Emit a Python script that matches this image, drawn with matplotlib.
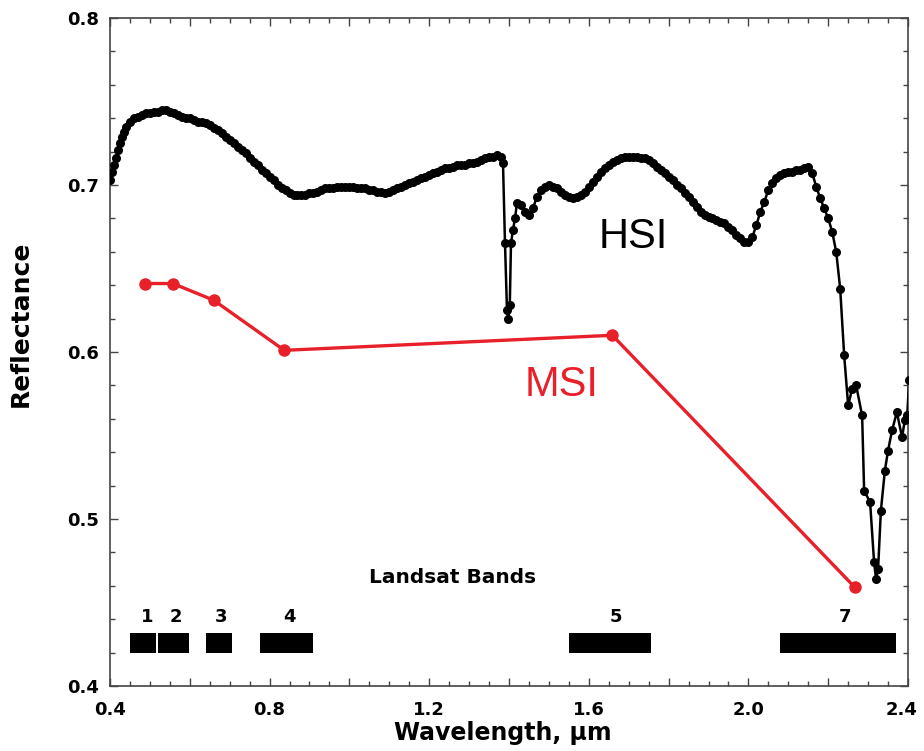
import matplotlib
matplotlib.use("Agg")
import matplotlib.pyplot as plt
import matplotlib.transforms as mtransforms
from matplotlib.ticker import MultipleLocator, FuncFormatter

plt.rcParams['font.family'] = ['Liberation Sans', 'DejaVu Sans']

# Hyperspectral reflectance spectrum (wavelength in µm, reflectance)
hsi_wl = [0.400, 0.405, 0.410, 0.415, 0.420, 0.425, 0.430, 0.435, 0.440, 0.450,
          0.460, 0.470, 0.480, 0.490, 0.500, 0.510, 0.520, 0.530, 0.540, 0.550,
          0.560, 0.570, 0.580, 0.590, 0.600, 0.610, 0.620, 0.630, 0.640, 0.650,
          0.660, 0.670, 0.680, 0.690, 0.700, 0.710, 0.720, 0.730, 0.740, 0.750,
          0.760, 0.770, 0.780, 0.790, 0.800, 0.810, 0.820, 0.830, 0.840, 0.850,
          0.860, 0.870, 0.880, 0.890, 0.900, 0.910, 0.920, 0.930, 0.940, 0.950,
          0.960, 0.970, 0.980, 0.990, 1.000, 1.010, 1.020, 1.030, 1.040, 1.050,
          1.060, 1.070, 1.080, 1.090, 1.100, 1.110, 1.120, 1.130, 1.140, 1.150,
          1.160, 1.170, 1.180, 1.190, 1.200, 1.210, 1.220, 1.230, 1.240, 1.250,
          1.260, 1.270, 1.280, 1.290, 1.300, 1.310, 1.320, 1.330, 1.340, 1.350,
          1.360, 1.370, 1.380, 1.385, 1.390, 1.395, 1.398, 1.402, 1.405, 1.410,
          1.415, 1.420, 1.430, 1.440, 1.450, 1.460, 1.470, 1.480, 1.490, 1.500,
          1.510, 1.520, 1.530, 1.540, 1.550, 1.560, 1.570, 1.580, 1.590, 1.600,
          1.610, 1.620, 1.630, 1.640, 1.650, 1.660, 1.670, 1.680, 1.690, 1.700,
          1.710, 1.720, 1.730, 1.740, 1.750, 1.760, 1.770, 1.780, 1.790, 1.800,
          1.810, 1.820, 1.830, 1.840, 1.850, 1.860, 1.870, 1.880, 1.890, 1.900,
          1.910, 1.920, 1.930, 1.940, 1.950, 1.960, 1.970, 1.980, 1.990, 2.000,
          2.010, 2.020, 2.030, 2.040, 2.050, 2.060, 2.070, 2.080, 2.090, 2.100,
          2.110, 2.120, 2.130, 2.140, 2.150, 2.160, 2.170, 2.180, 2.190, 2.200,
          2.210, 2.220, 2.230, 2.240, 2.250, 2.260, 2.270, 2.285, 2.290, 2.305,
          2.315, 2.320, 2.325, 2.332, 2.342, 2.350, 2.360, 2.372, 2.385, 2.392,
          2.398, 2.403]
hsi_refl = [0.703, 0.708, 0.712, 0.716, 0.721, 0.725, 0.729, 0.732, 0.735, 0.738,
            0.740, 0.741, 0.742, 0.743, 0.743, 0.744, 0.744, 0.745, 0.745, 0.744,
            0.743, 0.742, 0.741, 0.740, 0.740, 0.739, 0.738, 0.738, 0.737, 0.736,
            0.734, 0.733, 0.731, 0.729, 0.727, 0.725, 0.723, 0.721, 0.719, 0.716,
            0.714, 0.712, 0.709, 0.707, 0.705, 0.703, 0.700, 0.698, 0.697, 0.695,
            0.694, 0.694, 0.694, 0.694, 0.695, 0.695, 0.696, 0.697, 0.698, 0.698,
            0.698, 0.699, 0.699, 0.699, 0.699, 0.699, 0.698, 0.698, 0.698, 0.697,
            0.697, 0.696, 0.696, 0.695, 0.696, 0.697, 0.698, 0.699, 0.700, 0.701,
            0.702, 0.703, 0.704, 0.705, 0.706, 0.707, 0.708, 0.709, 0.710, 0.710,
            0.711, 0.712, 0.712, 0.712, 0.713, 0.713, 0.714, 0.715, 0.716, 0.717,
            0.717, 0.718, 0.717, 0.713, 0.665, 0.625, 0.620, 0.628, 0.665, 0.673,
            0.680, 0.689, 0.688, 0.684, 0.682, 0.686, 0.693, 0.697, 0.699, 0.700,
            0.699, 0.698, 0.696, 0.694, 0.693, 0.692, 0.693, 0.694, 0.696, 0.699,
            0.702, 0.705, 0.708, 0.710, 0.712, 0.714, 0.715, 0.716, 0.717, 0.717,
            0.717, 0.717, 0.716, 0.716, 0.715, 0.713, 0.711, 0.709, 0.707, 0.705,
            0.703, 0.700, 0.698, 0.695, 0.693, 0.690, 0.687, 0.684, 0.682, 0.681,
            0.680, 0.679, 0.678, 0.677, 0.675, 0.673, 0.670, 0.668, 0.666, 0.666,
            0.669, 0.676, 0.684, 0.690, 0.697, 0.701, 0.704, 0.706, 0.707, 0.708,
            0.708, 0.709, 0.709, 0.710, 0.711, 0.707, 0.699, 0.692, 0.686, 0.680,
            0.672, 0.660, 0.638, 0.598, 0.568, 0.578, 0.580, 0.562, 0.517, 0.510,
            0.474, 0.464, 0.470, 0.505, 0.529, 0.541, 0.553, 0.564, 0.549, 0.559,
            0.562, 0.583]

# Multispectral (Landsat band) reflectance
msi_wl = [0.488, 0.558, 0.660, 0.837, 1.659, 2.267]
msi_refl = [0.641, 0.641, 0.631, 0.601, 0.610, 0.459]

# Landsat band extents and labels
band_names = ['1', '2', '3', '4', '5', '7']
band_lo = [0.45, 0.52, 0.64, 0.775, 1.55, 2.08]
band_hi = [0.515, 0.597, 0.705, 0.91, 1.755, 2.37]
band_label_x = [0.493, 0.566, 0.679, 0.85, 1.669, 2.242]

RED = '#e8202a'
WIDE = ['DejaVu Sans']

fig = plt.figure(figsize=(9.24, 7.51), dpi=100)
ax = fig.add_axes([0.119, 0.0866, 0.8637, 0.8894])

ax.plot(hsi_wl, hsi_refl, color='black', lw=1.8, marker='o', ms=6.5,
        markeredgewidth=0, zorder=3)
ax.plot(msi_wl, msi_refl, color=RED, lw=2.4, marker='o', ms=9,
        markeredgewidth=0, zorder=4)

# Band bars along the bottom
for lo, hi in zip(band_lo, band_hi):
    ax.fill_between([lo, hi], 0.420, 0.432, color='black', lw=0, zorder=2)
for name, x in zip(band_names, band_label_x):
    ax.text(x, 0.4415, name, ha='center', va='center', fontsize=13,
            fontweight='bold', family=WIDE)
ax.text(1.259, 0.465, 'Landsat Bands', ha='center', va='center', fontsize=14.5,
        fontweight='bold', family=WIDE)

ax.text(1.712, 0.669, 'HSI', ha='center', va='center', fontsize=30,
        color='black')
ax.text(1.533, 0.580, 'MSI', ha='center', va='center', fontsize=30,
        color=RED)

ax.set_xlim(0.4, 2.4)
ax.set_ylim(0.4, 0.8)

ax.xaxis.set_major_locator(MultipleLocator(0.2))
ax.xaxis.set_minor_locator(MultipleLocator(0.05))
ax.xaxis.set_major_formatter(FuncFormatter(
    lambda v, p: f'{v:.1f}' if abs(round(v / 0.4) * 0.4 - v) < 1e-6 else ''))
ax.yaxis.set_major_locator(MultipleLocator(0.1))
ax.yaxis.set_minor_locator(MultipleLocator(0.02))
ax.yaxis.set_major_formatter(FuncFormatter(lambda v, p: f'{v:.1f}'))

ax.tick_params(which='both', direction='in', top=True, right=True,
               width=1.0, color='#444444')
ax.tick_params(which='major', length=6, labelsize=13)
ax.tick_params(axis='x', which='major', pad=11)
ax.tick_params(axis='y', which='major', pad=8)
ax.tick_params(which='minor', length=3.5)
for lab in ax.get_xticklabels() + ax.get_yticklabels():
    lab.set_fontweight('bold')
    lab.set_family(WIDE)
for sp in ax.spines.values():
    sp.set_linewidth(1.2)
    sp.set_color('#444444')

# Nudge the rightmost wavelength label inward so it stays on the canvas
last_tick = ax.xaxis.get_major_ticks()[-1]
shift = mtransforms.ScaledTranslation(-6 / 100, 0, fig.dpi_scale_trans)
fig.canvas.draw()
for tick in ax.xaxis.get_major_ticks():
    if abs(tick.get_loc() - 2.4) < 1e-6:
        tick.label1.set_transform(tick.label1.get_transform() + shift)

ax.set_xlabel('Wavelength, µm', fontsize=17, fontweight='bold', family=WIDE)
ax.set_ylabel('Reflectance', fontsize=18, fontweight='bold', family=WIDE)
ax.xaxis.set_label_coords(0.4925, -0.052)
ax.yaxis.set_label_coords(-0.097, 0.542)

fig.savefig('out.png', dpi=100, facecolor='white')
